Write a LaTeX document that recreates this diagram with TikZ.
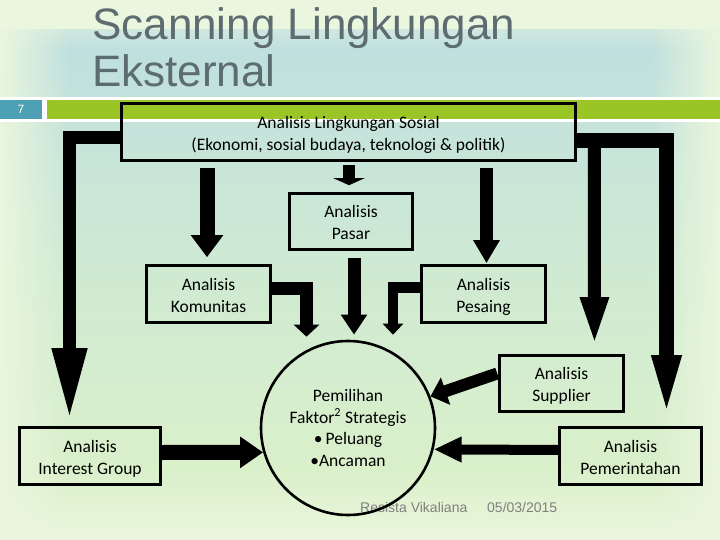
\documentclass[tikz,border=0pt]{standalone}
\usepackage{fontspec}
\setmainfont{Carlito}
\newfontfamily\arialf{Liberation Sans}
\usetikzlibrary{arrows.meta,calc,fadings}

\definecolor{bgpale}{RGB}{234,246,222}
\definecolor{bgblue}{RGB}{190,223,224}
\definecolor{bgmid}{RGB}{208,234,210}
\definecolor{bggreen}{RGB}{222,242,200}
\definecolor{titlec}{RGB}{92,108,112}
\definecolor{teal}{RGB}{78,160,180}
\definecolor{barg}{RGB}{155,197,38}
\definecolor{footgray}{RGB}{128,128,128}

\newcommand{\twolines}[1]{\raisebox{-3pt}[\height][\depth]{\begin{tabular}{@{}c@{}}#1\end{tabular}}}

\tikzfading[name=fadeR, left color=transparent!0, right color=transparent!100]
\tikzfading[name=fadeL, left color=transparent!100, right color=transparent!0]
\tikzfading[name=fadeD, top color=transparent!0, bottom color=transparent!100]
\tikzfading[name=fadeU, top color=transparent!100, bottom color=transparent!0]

\begin{document}
\begin{tikzpicture}[x=1pt,y=-1pt,
  box/.style={draw=black, line width=2.6pt, rectangle, inner sep=0pt,
              font=\fontsize{17.5}{22}\selectfont},
  blk/.style={draw=black, line width=#1, line join=miter, line cap=butt},
  ttl/.style={anchor=base west, inner sep=0pt, font=\arialf\fontsize{44}{47}\selectfont, text=titlec},
  foot/.style={anchor=base west, inner sep=0pt, font=\arialf\fontsize{14}{16}\selectfont, text=footgray},
]
\useasboundingbox (0,0) rectangle (720,540);

% background
\fill[bgpale] (0,0) rectangle (720,540);
\shade[top color=bgblue, bottom color=bggreen, middle color=bgmid] (0,30) rectangle (720,540);
\fill[bgpale, path fading=fadeD] (0,0) rectangle (720,50);
\fill[bgpale, path fading=fadeR] (0,0) rectangle (70,540);
\fill[bgpale, path fading=fadeL] (650,0) rectangle (720,540);
\fill[bgpale, path fading=fadeU] (0,470) rectangle (720,540);

% title
\node[ttl] (t1) at (92,40) {Scanning Lingkungan};
\node[ttl] (t2) at (92,87) {Eksternal};

% bar
\fill[white] (0,97) rectangle (720,122.5);
\fill[teal] (0,100) rectangle (42,119);
\fill[barg] (47,100) rectangle (720,119);
\node[font=\arialf\fontsize{12}{13}\selectfont, text=white] (num) at (21,109.5) {7};

% boxes
\node[box, minimum width=454pt, minimum height=57pt] (sosial) at (348.5,132)
  {\twolines{Analisis Lingkungan Sosial\\(Ekonomi, sosial budaya, teknologi \& politik)}};
\node[box, minimum width=123pt, minimum height=56pt] (pasar) at (351,221.5) {\twolines{Analisis\\Pasar}};
\node[box, minimum width=124pt, minimum height=57pt] (kom) at (208.5,294) {\twolines{Analisis\\Komunitas}};
\node[box, minimum width=124pt, minimum height=57pt] (pes) at (483.5,294) {\twolines{Analisis\\Pesaing}};
\node[box, minimum width=124pt, minimum height=56pt] (sup) at (561.5,383.5) {\twolines{Analisis\\Supplier}};
\node[box, minimum width=141pt, minimum height=57pt] (interest) at (90,456) {\twolines{Analisis\\Interest Group}};
\node[box, minimum width=142pt, minimum height=57pt] (pem) at (630.5,456) {\twolines{Analisis\\Pemerintahan}};

% footer
\node[foot] (auth) at (360,512) {Resista Vikaliana};
\node[foot] (date) at (487,512) {05/03/2015};

% circle
\node[draw=black, line width=2.6pt, circle, minimum size=174pt, inner sep=0pt, align=center,
      font=\fontsize{17.5}{21.5}\selectfont] (circ) at (348,428)
  {Pemilihan\\Faktor\textsuperscript{2} Strategis\\\textbullet\,Peluang\\\textbullet Ancaman};

% arrows
\draw[blk=13pt, -{Triangle[width=32pt,length=72pt]}] ($(sosial.west)+(0,5.5)$) -| ($(interest.north)+(-20.5,-6)$);
\draw[blk=15pt, -{Triangle[width=25pt,length=68pt]}] ($(sosial.east)+(0,9)$) -| ($(pem.north)+(36,-3)$);
\draw[blk=13pt, -{Triangle[width=25pt,length=50pt]}] ($(sosial.east)+(17.5,9)$) -- ($(sup.north)+(33,-7)$);
\draw[blk=12pt, -{Triangle[width=31pt,length=7pt]}] ($(pasar.north)+(-2,-27)$) -- ($(pasar.north)+(-2,-7)$);
\draw[blk=15pt, -{Triangle[width=31pt,length=22pt]}] ($(sosial.south -| kom.north)+(-1.5,6)$) -- ($(kom.north)+(-1.5,-7)$);
\draw[blk=13pt, -{Triangle[width=25pt,length=23pt]}] ($(sosial.south -| pes.north)+(3,6)$) -- ($(pes.north)+(3,-1)$);
\draw[blk=13pt, -{Triangle[width=25pt,length=20pt]}] ($(pasar.south)+(3,7)$) -- ($(circ.north)+(6,-5)$);
\draw[blk=12.5pt, -{Triangle[width=25pt,length=12pt]}] ($(kom.east)+(0,-5.5)$) -| ($(circ.north)+(-41.5,-3)$);
\draw[blk=10.5pt, -{Triangle[width=20pt,length=11pt]}] ($(pes.west)+(0,-6.5)$) -| ($(circ.north)+(45,-5)$);
\draw[blk=12pt, -{Triangle[width=28pt,length=16pt]}] ($(sup.west)+(-1,-10)$) -- (circ.21);
\draw[blk=10pt, -{Triangle[width=24pt,length=28pt]}] ($(pem.west)+(0,-6)$) -- (circ.-14);
\draw[blk=15pt, -{Triangle[width=30pt,length=23pt]}] ($(interest.east)+(0,-3.5)$) -- (circ.196);
\end{tikzpicture}
\end{document}
